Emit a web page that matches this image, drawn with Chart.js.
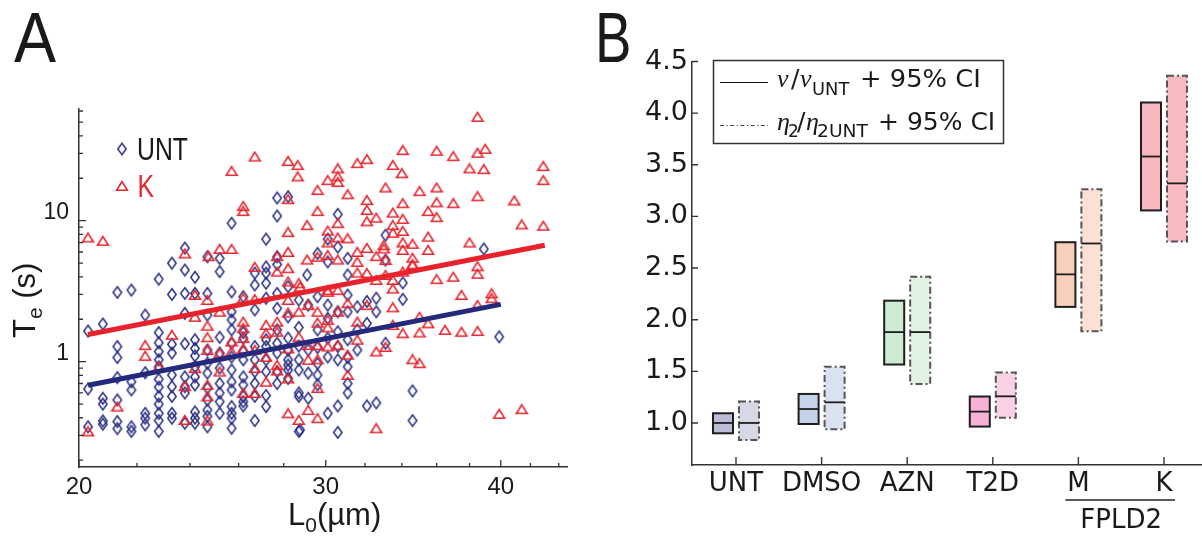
<!DOCTYPE html>
<html>
<head>
<meta charset="utf-8">
<script src="https://cdn.jsdelivr.net/npm/chart.js@4"></script>
<style>
  html, body { margin: 0; padding: 0; background: #fff; overflow: hidden; }
  #boxA { position: absolute; left: 0; top: 0; width: 600px; height: 536px; }
  #boxB { position: absolute; left: 560px; top: 0; width: 642px; height: 536px; }
</style>
</head>
<body>
<div id="boxA"><canvas id="chartA" width="600" height="536"></canvas></div>
<div id="boxB"><canvas id="chartB" width="642" height="536"></canvas></div>
<script>
// ---- panel A data : [L0 (um), Te (s)] ----
const untPoints = [
  [25.7, 9.6], [27.7, 14.5], [28.2, 14.8], [27.7, 10.8], [27.2, 7.4], [30.6, 11.1], [30.1, 7.4], [30.6, 6.5],
  [29.6, 5.85], [23.8, 6.4], [23.3, 5.0], [23.8, 4.47], [25.2, 5.4], [25.2, 4.35], [24.2, 3.97], [22.8, 3.85],
  [27.2, 4.7], [27.2, 4.25], [27.7, 5.55], [27.7, 4.9], [29.1, 4.12], [30.1, 5.1], [31.1, 5.4], [31.1, 4.12],
  [33.1, 7.9], [38.9, 6.3], [33.1, 5.26],
  [20.3, 1.65], [20.3, 0.64], [20.3, 0.345],
  [20.8, 1.85], [20.8, 0.55], [20.8, 0.5], [20.8, 0.38], [20.8, 0.36],
  [21.3, 3.1], [21.3, 1.28], [21.3, 1.07], [21.3, 0.77], [21.3, 0.535], [21.3, 0.376], [21.3, 0.335],
  [21.8, 3.22], [21.8, 0.72], [21.8, 0.63], [21.8, 0.345], [21.8, 0.32],
  [22.3, 2.14], [22.3, 0.835], [22.3, 0.43], [22.3, 0.397], [22.3, 0.356],
  [22.8, 1.61], [22.8, 1.36], [22.8, 1.18], [22.8, 1.03], [22.8, 0.92], [22.8, 0.75], [22.8, 0.66], [22.8, 0.567],
  [22.8, 0.5], [22.8, 0.43], [22.8, 0.382], [22.8, 0.32],
  [23.3, 3.0], [23.3, 1.33], [23.3, 1.15], [23.3, 0.805], [23.3, 0.665], [23.3, 0.567], [23.3, 0.43], [23.3, 0.397],
  [23.8, 3.05], [23.8, 2.2], [23.8, 1.34], [23.8, 0.78], [23.8, 0.665], [23.8, 0.6], [23.8, 0.366],
  [24.2, 3.05], [24.2, 1.43], [24.2, 1.24], [24.2, 1.1], [24.2, 0.92], [24.2, 0.78], [24.2, 0.684], [24.2, 0.44],
  [24.2, 0.397], [24.2, 0.366],
  [24.7, 5.55], [24.7, 3.05], [24.7, 2.14], [24.7, 1.21], [24.7, 0.975], [24.7, 0.83], [24.7, 0.65], [24.7, 0.535],
  [24.7, 0.454], [24.7, 0.41], [24.7, 0.345],
  [25.2, 1.49], [25.2, 1.15], [25.2, 0.9], [25.2, 0.7], [25.2, 0.6], [25.2, 0.52], [25.2, 0.43],
  [25.7, 3.13], [25.7, 2.26], [25.7, 1.98], [25.7, 1.68], [25.7, 1.35], [25.7, 1.08], [25.7, 0.873], [25.7, 0.72],
  [25.7, 0.63], [25.7, 0.48], [25.7, 0.43], [25.7, 0.397], [25.7, 0.337],
  [26.2, 2.89], [26.2, 1.61], [26.2, 1.47], [26.2, 1.18], [26.2, 1.03], [26.2, 0.78], [26.2, 0.684], [26.2, 0.567],
  [26.2, 0.52], [26.2, 0.485],
  [26.7, 4.25], [26.7, 3.5], [26.7, 2.33], [26.7, 1.28], [26.7, 1.03], [26.7, 0.85], [26.7, 0.7], [26.7, 0.567], [26.7, 0.382],
  [27.2, 3.6], [27.2, 2.82], [27.2, 1.43], [27.2, 1.28], [27.2, 1.03], [27.2, 0.85], [27.2, 0.575], [27.2, 0.48],
  [27.7, 3.05], [27.7, 2.39], [27.7, 1.68], [27.7, 1.35], [27.7, 1.15], [27.7, 0.85], [27.7, 0.7],
  [28.2, 3.4], [28.2, 2.08], [28.2, 1.47], [28.2, 1.21], [28.2, 1.03], [28.2, 0.947], [28.2, 0.873], [28.2, 0.76],
  [28.7, 2.74], [28.7, 1.75], [28.7, 1.29], [28.7, 1.03], [28.7, 0.873], [28.7, 0.6], [28.7, 0.567], [28.7, 0.32],
  [29.15, 2.52], [29.15, 1.21], [29.15, 0.83], [29.15, 0.55],
  [29.6, 2.89], [29.6, 1.68], [29.6, 1.26], [29.6, 0.97], [29.6, 0.805], [29.6, 0.684],
  [30.1, 2.52], [30.1, 2.03], [30.1, 1.47], [30.1, 1.08], [30.1, 0.43],
  [30.6, 2.26], [30.6, 1.63], [30.6, 1.28], [30.6, 1.03], [30.6, 0.485], [30.6, 0.315],
  [31.1, 2.97], [31.1, 2.26], [31.1, 1.43], [31.1, 1.07], [31.1, 0.92], [31.1, 0.7], [31.1, 0.6],
  [31.6, 2.45], [31.6, 1.68], [31.6, 1.21],
  [32.1, 2.67], [32.1, 1.87], [32.1, 0.485],
  [32.6, 2.82], [32.6, 2.26], [34.05, 3.62], [34.05, 2.77], [33.1, 1.35], [39.9, 1.5],
  [34.6, 0.62], [34.6, 0.382], [32.6, 0.51], [28.76, 0.328]
];

const kPoints = [
  [20.3, 7.6], [20.8, 7.2], [26.7, 28.5], [25.7, 22.5], [28.2, 26.5], [28.65, 24.8], [28.65, 20.6], [29.6, 16.5],
  [30.1, 19.4], [30.6, 23.5], [30.6, 20.6], [30.6, 18.8], [31.6, 25.6], [32.1, 27.3], [31.1, 15.4], [26.2, 12.7],
  [26.2, 11.7], [28.2, 14.2], [29.6, 11.7], [29.1, 9.3], [28.2, 8.3], [30.6, 9.6], [30.1, 8.5], [30.6, 7.6],
  [31.1, 7.5], [30.1, 7.0], [32.1, 14.0], [32.1, 11.9], [32.1, 9.9], [25.2, 6.3], [25.7, 6.3], [24.75, 5.6],
  [26.7, 4.7], [27.7, 4.35], [27.7, 5.6], [28.2, 6.0], [28.2, 4.6], [29.1, 5.3], [29.6, 5.55], [30.1, 5.7],
  [30.6, 5.3], [31.6, 6.0], [31.6, 5.1], [31.6, 4.28], [32.1, 6.4], [32.1, 4.25], [23.8, 5.85],
  [38.5, 54.5], [34.05, 31.7], [36.0, 31.3], [37.0, 28.7], [38.5, 30.3], [39.0, 32.3], [38.0, 23.5], [38.9, 23.2],
  [33.5, 24.8], [34.0, 21.7], [32.6, 10.5], [33.1, 17.2], [35.0, 16.2], [36.0, 17.2], [36.0, 13.5], [37.0, 13.3],
  [38.5, 14.9], [40.9, 13.9], [42.9, 24.4], [42.9, 19.4], [41.4, 9.4], [42.9, 9.2], [34.05, 13.3], [33.5, 11.4],
  [35.5, 11.7], [36.0, 10.6], [34.05, 10.3], [33.5, 9.3], [33.5, 8.2], [34.05, 8.45], [33.0, 6.7], [33.0, 6.35],
  [34.05, 7.0], [34.05, 6.2], [34.6, 6.85], [35.5, 7.7], [35.5, 6.2], [38.0, 7.0], [32.6, 5.6], [33.1, 5.26],
  [34.6, 5.45], [34.6, 4.9], [38.5, 4.75], [38.5, 4.2], [37.0, 4.0], [36.0, 3.85],
  [20.3, 0.32], [21.3, 0.48], [22.3, 1.31], [22.3, 1.1], [22.8, 0.92], [23.3, 1.55], [23.8, 0.67], [23.8, 0.386],
  [24.2, 2.97], [24.2, 2.08], [24.2, 0.9], [24.7, 2.74], [24.7, 1.8], [24.7, 1.49], [24.7, 1.21], [24.7, 0.684],
  [24.7, 0.567], [24.7, 0.382], [25.2, 2.26], [25.2, 1.15], [25.2, 0.85], [25.7, 1.39], [25.7, 1.18], [26.2, 2.82],
  [26.2, 1.92], [26.2, 1.73], [26.2, 1.47], [26.2, 1.24], [26.2, 0.6], [26.7, 2.77], [26.7, 1.21], [26.7, 0.9],
  [26.7, 0.6], [27.2, 1.82], [27.2, 1.59], [27.2, 1.08], [27.2, 0.72], [27.7, 1.92], [27.7, 1.63], [27.7, 0.947],
  [27.7, 0.865], [28.2, 3.7], [28.2, 2.74], [28.2, 2.23], [28.2, 1.24], [28.2, 0.76], [28.2, 0.43], [28.7, 3.6],
  [28.7, 2.26], [28.7, 1.5], [28.7, 0.386], [29.15, 2.52], [29.15, 1.31], [29.15, 1.03], [29.15, 0.454], [29.6, 2.26],
  [29.6, 1.89], [29.6, 1.31], [29.6, 0.65], [29.6, 0.397], [30.1, 3.22], [30.1, 1.98], [30.1, 1.75], [30.1, 1.28],
  [30.6, 3.22], [30.6, 2.26], [30.6, 1.31], [31.1, 2.6], [31.1, 1.12], [31.1, 0.805], [31.6, 1.92], [31.6, 1.43],
  [32.1, 2.52],
  [32.6, 3.8], [33.1, 4.12], [33.5, 3.8], [34.05, 4.35], [34.6, 4.85], [28.76, 3.4], [30.1, 3.13], [37.5, 2.97],
  [39.4, 3.05], [39.4, 2.82], [38.5, 2.52], [33.5, 3.3], [33.5, 2.43], [35.0, 2.08], [35.5, 1.87], [36.5, 1.68],
  [37.5, 1.63], [38.5, 1.65], [34.05, 1.59], [33.5, 1.82], [35.0, 1.61], [32.6, 1.18], [33.1, 1.27], [29.6, 1.04],
  [34.6, 1.04], [35.0, 0.975], [32.6, 0.337], [39.9, 0.426], [41.4, 0.46]
];

// fitted lines (end points)
const fitK = [[20.3, 1.56], [43.0, 6.7]];
const fitUNT = [[20.3, 0.68], [40.0, 2.55]];

const xLabelsA = [20, 30, 40];
const xMinorA = [22, 24, 26, 28, 32, 34, 36, 38, 42, 44];
const yLabelsA = [1, 10];
const yMinorA = [0.2, 0.3, 0.4, 0.5, 0.6, 0.7, 0.8, 0.9, 2, 3, 4, 5, 6, 7, 8, 9, 20, 30, 40, 50, 60];

// ---- panel B data ----
const groups = ['UNT', 'DMSO', 'AZN', 'T2D', 'M', 'K'];
const nuLow = [0.90, 0.99, 1.566, 0.965, 2.124, 3.058];
const nuHigh = [1.094, 1.281, 2.184, 1.256, 2.75, 4.103];
const nuMid = [1.0, 1.135, 1.88, 1.11, 2.439, 3.58];
const etaLow = [0.836, 0.938, 1.377, 1.051, 1.887, 2.756];
const etaHigh = [1.207, 1.545, 2.416, 1.488, 3.264, 4.362];
const etaMid = [1.0, 1.2, 1.88, 1.258, 2.738, 3.32];
const yTicksB = [1.0, 1.5, 2.0, 2.5, 3.0, 3.5, 4.0, 4.5];

const nuFill = ['#bbbcd6', '#c4d3ea', '#cdebd3', '#f5b1d6', '#f8d0ba', '#f7b7bd'];
const etaFill = ['#d6d8e6', '#dae2f0', '#e0f3e2', '#f9d1e5', '#fbe1d4', '#f8bac1'];

const ink = '#1a1a1a';
Chart.defaults.font.family = '"Liberation Sans", Arial, sans-serif';

// draw a piece of text, optionally squeezed horizontally
function txt(ctx, s, x, y, font, color, sx) {
  sx = sx || 1;
  ctx.save();
  ctx.font = font;
  ctx.fillStyle = color;
  ctx.textAlign = 'left';
  ctx.textBaseline = 'alphabetic';
  const w = ctx.measureText(s).width * sx;
  ctx.translate(x, y);
  ctx.scale(sx, 1);
  ctx.fillText(s, 0, 0);
  ctx.restore();
  return w;
}

function makeDiamond() {
  const c = document.createElement('canvas');
  c.width = 12; c.height = 15;
  const g = c.getContext('2d');
  g.strokeStyle = '#282e84';
  g.lineWidth = 1.5;
  g.beginPath();
  g.moveTo(6, 1.8); g.lineTo(10.2, 7.5); g.lineTo(6, 13.2); g.lineTo(1.8, 7.5);
  g.closePath();
  g.stroke();
  return c;
}

function makeTriangle() {
  const c = document.createElement('canvas');
  c.width = 14; c.height = 12;
  const g = c.getContext('2d');
  g.strokeStyle = '#e8262f';
  g.lineWidth = 1.6;
  g.beginPath();
  g.moveTo(7, 1.6); g.lineTo(12.4, 10.3); g.lineTo(1.6, 10.3);
  g.closePath();
  g.stroke();
  return c;
}

const diamond = makeDiamond();
const triangle = makeTriangle();
const toXY = p => ({ x: p[0], y: p[1] });

// extras for panel A: inward ticks, titles, legend, letter
const panelAExtras = {
  id: 'panelAExtras',
  afterDraw(chart) {
    const { ctx, chartArea: ca, scales: { x, y } } = chart;
    ctx.save();
    ctx.strokeStyle = '#333';
    ctx.lineWidth = 1.3;
    ctx.beginPath();
    yLabelsA.forEach(v => { const p = y.getPixelForValue(v); ctx.moveTo(ca.left, p); ctx.lineTo(ca.left + 7, p); });
    yMinorA.forEach(v => { const p = y.getPixelForValue(v); ctx.moveTo(ca.left, p); ctx.lineTo(ca.left + 4, p); });
    xLabelsA.forEach(v => { const p = x.getPixelForValue(v); ctx.moveTo(p, ca.bottom); ctx.lineTo(p, ca.bottom - 7); });
    xMinorA.forEach(v => { const p = x.getPixelForValue(v); ctx.moveTo(p, ca.bottom); ctx.lineTo(p, ca.bottom - 4); });
    ctx.stroke();

    txt(ctx, 'A', 14, 62, '70px "Liberation Sans"', ink, 0.9);

    // x title L0(um)
    let cx = 288;
    cx += txt(ctx, 'L', cx, 525, '31px "Liberation Sans"', ink);
    cx += txt(ctx, '0', cx, 532, '21px "Liberation Sans"', ink);
    txt(ctx, '(\u00b5m)', cx, 525, '31px "Liberation Sans"', ink);

    // y title Te (s)
    ctx.save();
    ctx.translate(35, 338);
    ctx.rotate(-Math.PI / 2);
    let cy = 0;
    cy += txt(ctx, 'T', cy, 0, '31px "Liberation Sans"', ink);
    cy += txt(ctx, 'e', cy, 7, '21px "Liberation Sans"', ink);
    txt(ctx, ' (s)', cy, 0, '31px "Liberation Sans"', ink);
    ctx.restore();

    // legend
    ctx.drawImage(diamond, 122 - diamond.width / 2, 149 - diamond.height / 2);
    txt(ctx, 'UNT', 137, 160, '31px "Liberation Sans"', ink, 0.8);
    ctx.drawImage(triangle, 122 - triangle.width / 2, 186 - triangle.height / 2);
    txt(ctx, 'K', 137.5, 196.7, '31px "Liberation Sans"', '#e8262f', 0.8);
    ctx.restore();
  }
};

new Chart(document.getElementById('chartA'), {
  type: 'scatter',
  data: {
    datasets: [
      { type: 'line', label: 'fit K', data: fitK.map(toXY), showLine: true, borderColor: '#e8222b', borderWidth: 5, pointRadius: 0, fill: false },
      { type: 'line', label: 'fit UNT', data: fitUNT.map(toXY), showLine: true, borderColor: '#24297c', borderWidth: 5, pointRadius: 0, fill: false },
      { label: 'K', data: kPoints.map(toXY), pointStyle: triangle, pointRadius: 5 },
      { label: 'UNT', data: untPoints.map(toXY), pointStyle: diamond, pointRadius: 5 }
    ]
  },
  options: {
    responsive: false,
    animation: false,
    events: [],
    layout: { padding: { top: 109, right: 33, left: 0, bottom: 0 } },
    plugins: { legend: { display: false }, tooltip: { enabled: false } },
    scales: {
      x: {
        type: 'logarithmic', min: 20, max: 44.6,
        afterFit: s => { s.height = 69; },
        afterBuildTicks: s => { s.ticks = xLabelsA.map(v => ({ value: v })); },
        grid: { display: false, drawTicks: false },
        border: { color: '#333', width: 1.5 },
        ticks: { autoSkip: false, maxRotation: 0, padding: 6, color: ink, font: { size: 24 }, callback: v => String(v) }
      },
      y: {
        type: 'logarithmic', min: 0.179, max: 62,
        afterFit: s => { s.width = 79; },
        afterBuildTicks: s => { s.ticks = yLabelsA.map(v => ({ value: v })); },
        grid: { display: false, drawTicks: false },
        border: { color: '#333', width: 1.5 },
        ticks: { autoSkip: false, padding: 10, labelOffset: -8, color: ink, font: { size: 23 }, callback: v => String(v) }
      }
    }
  },
  plugins: [panelAExtras]
});

// extras for panel B: box outlines, medians, ticks, legend, group label
const panelBExtras = {
  id: 'panelBExtras',
  afterDatasetsDraw(chart) {
    const { ctx, scales: { y } } = chart;
    const mids = [nuMid, etaMid];
    ctx.save();
    [0, 1].forEach(d => {
      chart.getDatasetMeta(d).data.forEach((el, i) => {
        const { x, y: top, base, width } = el.getProps(['x', 'y', 'base', 'width'], true);
        const l = x - width / 2;
        ctx.lineWidth = 2;
        if (d === 0) {
          ctx.setLineDash([]);
          ctx.strokeStyle = '#1e1e1e';
        } else {
          ctx.setLineDash([7, 3, 2, 3]);
          ctx.strokeStyle = '#555';
        }
        ctx.strokeRect(l, Math.min(top, base), width, Math.abs(base - top));
        ctx.setLineDash([]);
        ctx.strokeStyle = '#1e1e1e';
        ctx.lineWidth = 1.8;
        const m = y.getPixelForValue(mids[d][i]);
        ctx.beginPath();
        ctx.moveTo(l, m);
        ctx.lineTo(l + width, m);
        ctx.stroke();
      });
    });
    ctx.restore();
  },
  afterDraw(chart) {
    const { ctx, chartArea: ca, scales: { x, y } } = chart;
    ctx.save();
    ctx.strokeStyle = '#333';
    ctx.lineWidth = 1.4;
    ctx.beginPath();
    yTicksB.forEach(v => { const p = y.getPixelForValue(v); ctx.moveTo(ca.left, p); ctx.lineTo(ca.left + 6, p); });
    groups.forEach((g, i) => { const p = x.getPixelForValue(i); ctx.moveTo(p, ca.bottom); ctx.lineTo(p, ca.bottom - 8); });
    ctx.stroke();

    // FPLD2 group under M and K
    const x4 = x.getPixelForValue(4), x5 = x.getPixelForValue(5);
    ctx.strokeStyle = '#222';
    ctx.lineWidth = 1.3;
    ctx.beginPath();
    ctx.moveTo(x4 - 13, 500); ctx.lineTo(x5 + 11, 500);
    ctx.stroke();
    ctx.font = '26px "DejaVu Sans"';
    const fw = ctx.measureText('FPLD2').width;
    txt(ctx, 'FPLD2', (x4 + x5) / 2 - fw / 2, 528, '26px "DejaVu Sans"', ink);

    txt(ctx, 'B', 35, 61.7, '70px "Liberation Sans"', ink, 0.78);

    // legend box
    ctx.strokeStyle = '#333';
    ctx.lineWidth = 1.5;
    ctx.strokeRect(153.5, 60.5, 290, 83);
    ctx.lineWidth = 1.2;
    ctx.strokeStyle = '#111';
    ctx.beginPath(); ctx.moveTo(160, 82.5); ctx.lineTo(208, 82.5); ctx.stroke();
    ctx.setLineDash([4, 2.5, 1.2, 2.5]);
    ctx.strokeStyle = '#444';
    ctx.beginPath(); ctx.moveTo(160, 125.5); ctx.lineTo(208, 125.5); ctx.stroke();
    ctx.setLineDash([]);
    const gk = 'italic 26px "Liberation Serif"', nm = '25px "DejaVu Sans"', sb = '17px "DejaVu Sans"';
    txt(ctx, '\u03bd', 217, 87, gk, ink);
    txt(ctx, '/', 231, 87, nm, ink);
    txt(ctx, '\u03bd', 240, 87, gk, ink);
    txt(ctx, 'UNT', 252, 95, sb, ink, 1.05);
    txt(ctx, '+ 95% CI', 300, 87, nm, ink, 1.03);
    txt(ctx, '\u03b7', 217, 130, gk, ink);
    txt(ctx, '2', 228, 137, sb, ink);
    txt(ctx, '/', 237, 130, nm, ink);
    txt(ctx, '\u03b7', 246, 130, gk, ink);
    txt(ctx, '2UNT', 257, 137, sb, ink, 1.1);
    txt(ctx, '+ 95% CI', 318, 130, nm, ink);
    ctx.restore();
  }
};

new Chart(document.getElementById('chartB'), {
  type: 'bar',
  data: {
    datasets: [
      { label: 'nu', data: groups.map((g, i) => ({ x: i, y: [nuLow[i], nuHigh[i]] })), backgroundColor: nuFill, borderWidth: 0, categoryPercentage: 0.6075, barPercentage: 0.77 },
      { label: 'eta', data: groups.map((g, i) => ({ x: i, y: [etaLow[i], etaHigh[i]] })), backgroundColor: etaFill, borderWidth: 0, categoryPercentage: 0.6075, barPercentage: 0.77 }
    ]
  },
  options: {
    responsive: false,
    animation: false,
    events: [],
    layout: { padding: { top: 61.5, right: 0, left: 0, bottom: 0 } },
    plugins: { legend: { display: false }, tooltip: { enabled: false } },
    scales: {
      x: {
        type: 'linear', min: -0.514, max: 5.444, offset: false,
        afterFit: s => { s.height = 71; },
        afterBuildTicks: s => { s.ticks = groups.map((g, i) => ({ value: i })); },
        grid: { display: false, drawTicks: false, offset: false },
        border: { color: '#333', width: 1.5 },
        ticks: { autoSkip: false, maxRotation: 0, padding: 4, color: ink, font: { family: '"DejaVu Sans"', size: 26 }, callback: v => groups[v] }
      },
      y: {
        type: 'linear', min: 0.593, max: 4.5, beginAtZero: false,
        afterFit: s => { s.width = 132; },
        afterBuildTicks: s => { s.ticks = yTicksB.map(v => ({ value: v })); },
        grid: { display: false, drawTicks: false },
        border: { color: '#333', width: 1.5 },
        ticks: { autoSkip: false, padding: 4, color: ink, font: { family: '"DejaVu Sans"', size: 27 }, callback: v => v.toFixed(1) }
      }
    }
  },
  plugins: [panelBExtras]
});
</script>
</body>
</html>
